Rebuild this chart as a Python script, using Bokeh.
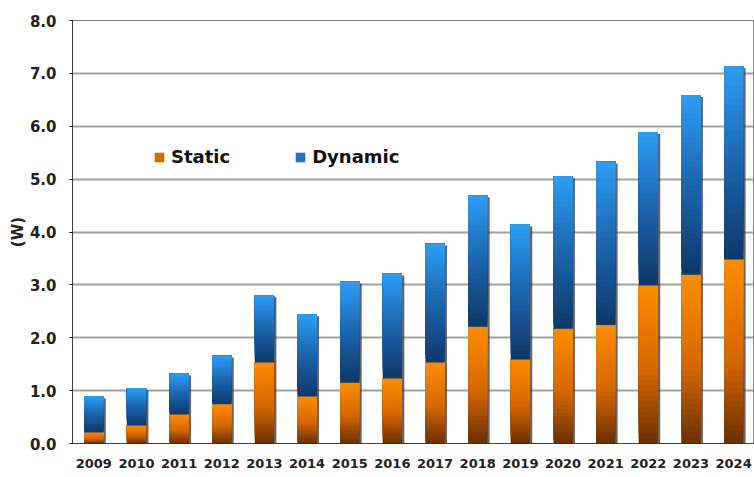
from bokeh.plotting import figure
from bokeh.models import ColumnDataSource, FixedTicker, Legend, LegendItem
from bokeh.embed import file_html
from bokeh.resources import INLINE

years = ["2009", "2010", "2011", "2012", "2013", "2014", "2015", "2016",
         "2017", "2018", "2019", "2020", "2021", "2022", "2023", "2024"]
static = [0.21, 0.34, 0.55, 0.74, 1.53, 0.89, 1.15, 1.23,
          1.53, 2.21, 1.59, 2.17, 2.24, 2.99, 3.19, 3.48]
total = [0.89, 1.04, 1.32, 1.66, 2.80, 2.44, 3.06, 3.21,
         3.78, 4.69, 4.14, 5.05, 5.33, 5.89, 6.59, 7.14]
dynamic = [t - s for t, s in zip(total, static)]
y_ticks = [0, 1, 2, 3, 4, 5, 6, 7, 8]

STATIC_STOPS = [(0.0, (0x6A, 0x2F, 0x00)), (0.45, (0xD4, 0x66, 0x00)), (1.0, (0xFF, 0x8C, 0x00))]
DYN_STOPS = [(0.0, (0x0E, 0x38, 0x68)), (0.5, (0x1B, 0x64, 0xAE)), (1.0, (0x2C, 0x9E, 0xF4))]


def interp(stops, f):
    for (f0, c0), (f1, c1) in zip(stops[:-1], stops[1:]):
        if f <= f1:
            u = (f - f0) / (f1 - f0) if f1 > f0 else 0
            c = [round(a + (b - a) * u) for a, b in zip(c0, c1)]
            return "#%02x%02x%02x" % tuple(c)
    return "#%02x%02x%02x" % stops[-1][1]


def gradient_source(bottoms, tops, stops, n=30):
    xs, bs, ts, cs = [], [], [], []
    for k in range(n):
        f = k / n
        for i, (b, t) in enumerate(zip(bottoms, tops)):
            xs.append(i)
            bs.append(b + (t - b) * f)
            ts.append(t)
            cs.append(interp(stops, f + 0.5 / n))
    return ColumnDataSource(dict(x=xs, bottom=bs, top=ts, color=cs))


BW = 0.45

p = figure(width=754, height=477, x_range=(-0.5, 15.49), y_range=(0, 8),
           output_backend="svg", toolbar_location=None,
           min_border_left=72, min_border_right=0, min_border_top=20, min_border_bottom=34)

# shadow
shadow = ColumnDataSource(dict(x=[i + 0.055 for i in range(len(years))],
                               top=[t - 0.035 for t in total]))
p.vbar(x="x", top="top", bottom=0, width=BW, source=shadow,
       fill_color="#333333", fill_alpha=0.75, line_color=None)

p.vbar(x="x", bottom="bottom", top="top", width=BW, fill_color="color", line_color=None,
       source=gradient_source([0] * len(years), static, STATIC_STOPS))
p.vbar(x="x", bottom="bottom", top="top", width=BW, fill_color="color", line_color=None,
       source=gradient_source(static, total, DYN_STOPS))

# legend proxies (zero-height, invisible in plot)
proxy = ColumnDataSource(dict(x=[0], top=[0]))
r_s = p.vbar(x="x", top="top", bottom=0, width=BW, source=proxy, fill_color="#D86A00", line_color=None)
r_d = p.vbar(x="x", top="top", bottom=0, width=BW, source=proxy, fill_color="#1F74C4", line_color=None)
legend = Legend(items=[LegendItem(label="Static", renderers=[r_s]),
                       LegendItem(label="Dynamic", renderers=[r_d])],
                orientation="horizontal", location=(81, 276),
                border_line_color=None, background_fill_alpha=0,
                padding=0, margin=0, spacing=64, glyph_width=12, glyph_height=12,
                label_standoff=6, label_text_font="DejaVu Sans",
                label_text_font_style="bold", label_text_font_size="18px",
                label_text_color="#111111")
p.add_layout(legend)

# axes
p.yaxis.ticker = FixedTicker(ticks=y_ticks)
p.yaxis.major_label_overrides = {t: "%.1f" % t for t in y_ticks}
p.yaxis.major_label_text_font = "DejaVu Sans"
p.yaxis.major_label_text_font_style = "bold"
p.yaxis.major_label_text_font_size = "15px"
p.yaxis.major_label_text_color = "#222222"
p.yaxis.major_label_standoff = 13
p.yaxis.major_tick_out = 3
p.yaxis.major_tick_in = 0
p.yaxis.minor_tick_out = 0
p.yaxis.minor_tick_in = 0
p.yaxis.axis_line_dash = "1 1"
p.yaxis.axis_label = "(W)"
p.yaxis.axis_label_text_font = "DejaVu Sans"
p.yaxis.axis_label_text_font_style = "bold"
p.yaxis.axis_label_text_font_size = "15px"
p.yaxis.axis_label_text_color = "#222222"
p.yaxis.axis_label_standoff = 0

p.xaxis.ticker = FixedTicker(ticks=list(range(len(years))))
p.xaxis.major_label_overrides = {i: y for i, y in enumerate(years)}
p.xaxis.major_label_text_font = "DejaVu Sans"
p.xaxis.major_label_text_font_style = "bold"
p.xaxis.major_label_text_font_size = "13px"
p.xaxis.major_label_text_color = "#222222"
p.xaxis.major_label_standoff = 15
p.xaxis.major_tick_out = 0
p.xaxis.major_tick_in = 0
p.xaxis.minor_tick_out = 0
p.xaxis.minor_tick_in = 0
p.xaxis.axis_line_dash = "1 1"

p.xgrid.grid_line_color = None
p.ygrid.ticker = FixedTicker(ticks=[1, 2, 3, 4, 5, 6, 7])
p.ygrid.grid_line_color = "#A0A0A0"
p.ygrid.grid_line_width = 2
p.outline_line_color = "#000000"
p.outline_line_dash = "1 1"
p.background_fill_color = "white"
p.border_fill_color = "white"

open("out.html", "w").write(file_html(p, INLINE))
